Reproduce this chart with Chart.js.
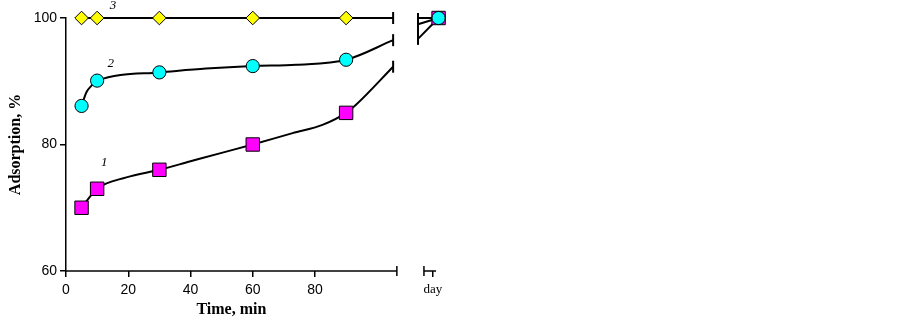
<!DOCTYPE html>
<html>
<head>
<meta charset="utf-8">
<script src="https://cdn.jsdelivr.net/npm/chart.js@4.4.1/dist/chart.umd.min.js"></script>
<style>
  html, body { margin: 0; padding: 0; background: #fff; }
  #wrap { width: 903px; height: 319px; }
</style>
</head>
<body>
<div id="wrap"><canvas id="c" width="903" height="319"></canvas></div>
<script>
// marker times (min) and adsorption (%)
const TIMES = [5, 10, 30, 60, 90];
const ADS_1 = [70, 73, 76, 80, 85];
const ADS_2 = [86.1, 90.1, 91.4, 92.4, 93.4];
const ADS_3 = [100, 100, 100, 100, 100];
const ADS_DAY = [100, 100, 100];

// smooth curves (up to the axis break)
const CURVE_T_1 = [5, 10, 19.4, 30, 39.7, 49.4, 60, 72.8, 82.4, 90, 93, 105.1];
const CURVE_1 = [70, 73, 74.8, 76, 77.3, 78.6, 80, 81.8, 83.1, 85, 86.2, 92.3];
const CURVE_T_2 = [5, 6.6, 8.2, 10, 30, 45, 60, 74, 90, 105.1];
const CURVE_2 = [86.1, 88.3, 89.3, 90.1, 91.4, 92.0, 92.4, 92.6, 93.4, 96.5];
const CURVE_T_3 = [5, 105.1];
const CURVE_3 = [100, 100];
// curves restart after the break
const RESTART = [96.7, 99.0, 100];

// x positions for the broken axis
const BREAK_AT = 106.3;
const RESTART_T = 113.1;
const AXIS2 = [115, 118.9];
const DAY = 119.7;
const DAY_TICK = 117.9;
const X_TICKS = [0, 20, 40, 60, 80];
const Y_TICKS = [60, 80, 100];

// curve labels
const LABELS = ['1', '2', '3'];
const LABEL_T = [12.3, 14.4, 15.1];
const LABEL_V = [77.1, 92.8, 102.0];

const SANS = "'Liberation Sans', Arial, sans-serif";
const SERIF = "'Liberation Serif', 'Times New Roman', serif";

function curve(ts, vs, i) {
  const pts = ts.map((t, k) => ({ x: t, y: vs[k] }));
  pts.push({ x: (ts[ts.length - 1] + RESTART_T) / 2, y: null });
  pts.push({ x: RESTART_T, y: RESTART[i] });
  pts.push({ x: DAY, y: ADS_DAY[i] });
  return pts;
}
function markers(vs, i) {
  const pts = TIMES.map((t, k) => ({ x: t, y: vs[k] }));
  pts.push({ x: DAY, y: ADS_DAY[i] });
  return pts;
}

const curves = [
  curve(CURVE_T_1, CURVE_1, 0),
  curve(CURVE_T_2, CURVE_2, 1),
  curve(CURVE_T_3, CURVE_3, 2)
];

const lineDs = curves.map(d => ({
  type: 'line', data: d, borderColor: '#000', borderWidth: 2,
  pointRadius: 0, cubicInterpolationMode: 'monotone', spanGaps: false,
  clip: false, order: 10
}));

const markDs = [
  { data: markers(ADS_1, 0), pointStyle: 'rect', pointRadius: 9.5, backgroundColor: '#ff00ff', order: 2 },
  { data: markers(ADS_2, 1), pointStyle: 'circle', pointRadius: 6.6, backgroundColor: '#00ffff', order: 1 },
  { data: markers(ADS_3, 2), pointStyle: 'rectRot', pointRadius: 6.8, backgroundColor: '#ffff00', order: 3 }
].map(d => Object.assign({
  type: 'scatter', showLine: false, borderColor: '#000', borderWidth: 1, clip: false
}, d));

const breakPlugin = {
  id: 'breaks',
  afterDatasetsDraw(chart) {
    const { ctx, scales: { x, y } } = chart;
    const seg = (x1, y1, x2, y2) => { ctx.beginPath(); ctx.moveTo(x1, y1); ctx.lineTo(x2, y2); ctx.stroke(); };
    ctx.save();
    ctx.strokeStyle = '#000';
    ctx.lineWidth = 1.5;
    const yb = y.getPixelForValue(60);
    // x axis, two parts
    seg(x.getPixelForValue(0), yb, x.getPixelForValue(BREAK_AT), yb);
    seg(x.getPixelForValue(BREAK_AT), yb - 5, x.getPixelForValue(BREAK_AT), yb + 5);
    seg(x.getPixelForValue(AXIS2[0]), yb, x.getPixelForValue(AXIS2[1]), yb);
    seg(x.getPixelForValue(AXIS2[0]), yb - 5, x.getPixelForValue(AXIS2[0]), yb + 5);
    // break bars at curve ends
    ctx.lineWidth = 2;
    curves.forEach(d => {
      const gap = d.findIndex(p => p.y === null);
      const p = d[gap - 1];
      const px = x.getPixelForValue(p.x), py = y.getPixelForValue(p.y);
      seg(px, py - 6, px, py + 6);
    });
    const rx = x.getPixelForValue(RESTART_T);
    seg(rx, y.getPixelForValue(Math.max(...RESTART)) - 5, rx, y.getPixelForValue(Math.min(...RESTART)) + 6);
    // curve numbers
    ctx.fillStyle = '#000';
    ctx.font = 'italic 13px ' + SERIF;
    ctx.textAlign = 'center';
    ctx.textBaseline = 'middle';
    LABELS.forEach((s, i) => ctx.fillText(s, x.getPixelForValue(LABEL_T[i]), y.getPixelForValue(LABEL_V[i])));
    // x title centred under first part of axis
    ctx.font = 'bold 16px ' + SERIF;
    ctx.fillText('Time, min', (x.getPixelForValue(0) + x.getPixelForValue(BREAK_AT)) / 2, 310);
    ctx.restore();
  }
};

new Chart(document.getElementById('c'), {
  data: { datasets: [...lineDs, ...markDs] },
  options: {
    responsive: false,
    animation: false,
    layout: { padding: { left: 0, top: 18, right: 463.5, bottom: 0 } },
    plugins: { legend: { display: false }, tooltip: { enabled: false } },
    scales: {
      x: {
        type: 'linear', min: 0, max: 120,
        afterFit: s => { s.height = 48; },
        afterBuildTicks: s => { s.ticks = [...X_TICKS, DAY_TICK].map(v => ({ value: v })); },
        border: { display: false },
        grid: { drawOnChartArea: false, drawTicks: true, tickLength: 6, color: '#000', lineWidth: 1.5 },
        ticks: {
          autoSkip: false, maxRotation: 0, padding: 5, color: '#000',
          callback: v => v === DAY_TICK ? 'day' : String(v),
          font: c => (c.tick && c.tick.value === DAY_TICK)
            ? { family: SERIF, size: 13 } : { family: SANS, size: 14 }
        }
      },
      y: {
        type: 'linear', min: 60, max: 100,
        afterFit: s => { s.width = 66; },
        afterBuildTicks: s => { s.ticks = Y_TICKS.map(v => ({ value: v })); },
        border: { display: true, color: '#000', width: 1.5 },
        grid: { drawOnChartArea: false, drawTicks: true, tickLength: 6, color: '#000', lineWidth: 1.5 },
        ticks: { padding: 3, color: '#000', font: { family: SANS, size: 14 } },
        title: { display: true, text: 'Adsorption, %', color: '#000', padding: { top: 6, bottom: 4 }, font: { family: SERIF, size: 16, weight: 'bold' } }
      }
    }
  },
  plugins: [breakPlugin]
});
</script>
</body>
</html>
